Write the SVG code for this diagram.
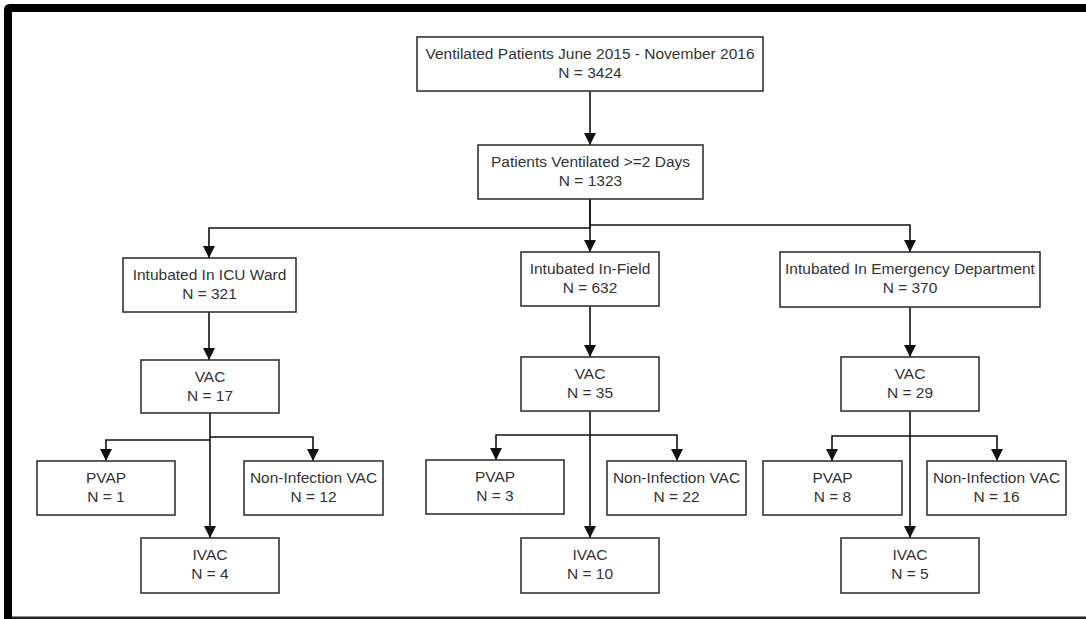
<svg xmlns="http://www.w3.org/2000/svg" width="1086" height="619" viewBox="0 0 1086 619">
<style>
.box{fill:#fff;stroke:#333;stroke-width:1.6}
.t{font-family:"Liberation Sans",Arial,sans-serif;font-size:15.5px;fill:#333;text-anchor:middle}
.c{fill:none;stroke:#111;stroke-width:1.6}
</style>
<defs>
<marker id="ah" viewBox="0 0 12 13" refX="12" refY="6.5" markerWidth="12" markerHeight="13" markerUnits="userSpaceOnUse" orient="auto">
<path d="M0,0.5 L12,6.5 L0,12.5 z" fill="#111"/>
</marker>
</defs>
<rect width="1086" height="619" fill="#fff"/>
<g id="frame">
<path d="M1086,4 H10 Q4,4 4,10 V619 H12 V12 H1086 z" fill="#000"/>
<rect x="12" y="616.5" width="1074" height="2.5" fill="#222"/>
</g>
<g id="connectors">
<path class="c" d="M590,91 V145" marker-end="url(#ah)"/>
<path class="c" d="M590,199 V228 H209 V258" marker-end="url(#ah)"/>
<path class="c" d="M590,199 V252" marker-end="url(#ah)"/>
<path class="c" d="M590,225 H910 V252" marker-end="url(#ah)"/>
<path class="c" d="M209,312 V360" marker-end="url(#ah)"/>
<path class="c" d="M590,306 V357" marker-end="url(#ah)"/>
<path class="c" d="M910,307 V357" marker-end="url(#ah)"/>
<path class="c" d="M210,413 V538" marker-end="url(#ah)"/>
<path class="c" d="M210,440 H106 V461" marker-end="url(#ah)"/>
<path class="c" d="M210,437 H313 V461" marker-end="url(#ah)"/>
<path class="c" d="M590,411 V538" marker-end="url(#ah)"/>
<path class="c" d="M590,435 H496 V460" marker-end="url(#ah)"/>
<path class="c" d="M590,435 H677 V461" marker-end="url(#ah)"/>
<path class="c" d="M910,411 V538" marker-end="url(#ah)"/>
<path class="c" d="M910,436 H832 V461" marker-end="url(#ah)"/>
<path class="c" d="M910,436 H997 V461" marker-end="url(#ah)"/>
</g>
<g id="n-top"><rect class="box" x="417" y="37" width="346" height="54"/><text class="t" x="590" y="59">Ventilated Patients June 2015 - November 2016</text><text class="t" x="590" y="78">N = 3424</text></g>
<g id="n-2days"><rect class="box" x="478" y="145" width="225" height="54"/><text class="t" x="590.5" y="167">Patients Ventilated &gt;=2 Days</text><text class="t" x="590.5" y="186">N = 1323</text></g>
<g id="n-icu"><rect class="box" x="123" y="258" width="173" height="54"/><text class="t" x="209.5" y="280">Intubated In ICU Ward</text><text class="t" x="209.5" y="299">N = 321</text></g>
<g id="n-field"><rect class="box" x="521" y="252" width="138" height="54"/><text class="t" x="590" y="274">Intubated In-Field</text><text class="t" x="590" y="293">N = 632</text></g>
<g id="n-ed"><rect class="box" x="780" y="252" width="260" height="55"/><text class="t" x="910" y="274">Intubated In Emergency Department</text><text class="t" x="910" y="293">N = 370</text></g>
<g id="n-vac1"><rect class="box" x="141" y="360" width="138" height="53"/><text class="t" x="210" y="382">VAC</text><text class="t" x="210" y="401">N = 17</text></g>
<g id="n-vac2"><rect class="box" x="521" y="357" width="138" height="54"/><text class="t" x="590" y="379">VAC</text><text class="t" x="590" y="398">N = 35</text></g>
<g id="n-vac3"><rect class="box" x="841" y="357" width="138" height="54"/><text class="t" x="910" y="379">VAC</text><text class="t" x="910" y="398">N = 29</text></g>
<g id="n-pvap1"><rect class="box" x="37" y="461" width="138" height="54"/><text class="t" x="106" y="483">PVAP</text><text class="t" x="106" y="502">N = 1</text></g>
<g id="n-ni1"><rect class="box" x="244" y="461" width="139" height="54"/><text class="t" x="313.5" y="483">Non-Infection VAC</text><text class="t" x="313.5" y="502">N = 12</text></g>
<g id="n-ivac1"><rect class="box" x="141" y="538" width="138" height="55"/><text class="t" x="210" y="560">IVAC</text><text class="t" x="210" y="579">N = 4</text></g>
<g id="n-pvap2"><rect class="box" x="426" y="460" width="138" height="54"/><text class="t" x="495" y="482">PVAP</text><text class="t" x="495" y="501">N = 3</text></g>
<g id="n-ni2"><rect class="box" x="607" y="461" width="139" height="54"/><text class="t" x="676.5" y="483">Non-Infection VAC</text><text class="t" x="676.5" y="502">N = 22</text></g>
<g id="n-ivac2"><rect class="box" x="521" y="538" width="138" height="55"/><text class="t" x="590" y="560">IVAC</text><text class="t" x="590" y="579">N = 10</text></g>
<g id="n-pvap3"><rect class="box" x="763" y="461" width="139" height="54"/><text class="t" x="832.5" y="483">PVAP</text><text class="t" x="832.5" y="502">N = 8</text></g>
<g id="n-ni3"><rect class="box" x="927" y="461" width="139" height="54"/><text class="t" x="996.5" y="483">Non-Infection VAC</text><text class="t" x="996.5" y="502">N = 16</text></g>
<g id="n-ivac3"><rect class="box" x="841" y="538" width="138" height="55"/><text class="t" x="910" y="560">IVAC</text><text class="t" x="910" y="579">N = 5</text></g>
</svg>
